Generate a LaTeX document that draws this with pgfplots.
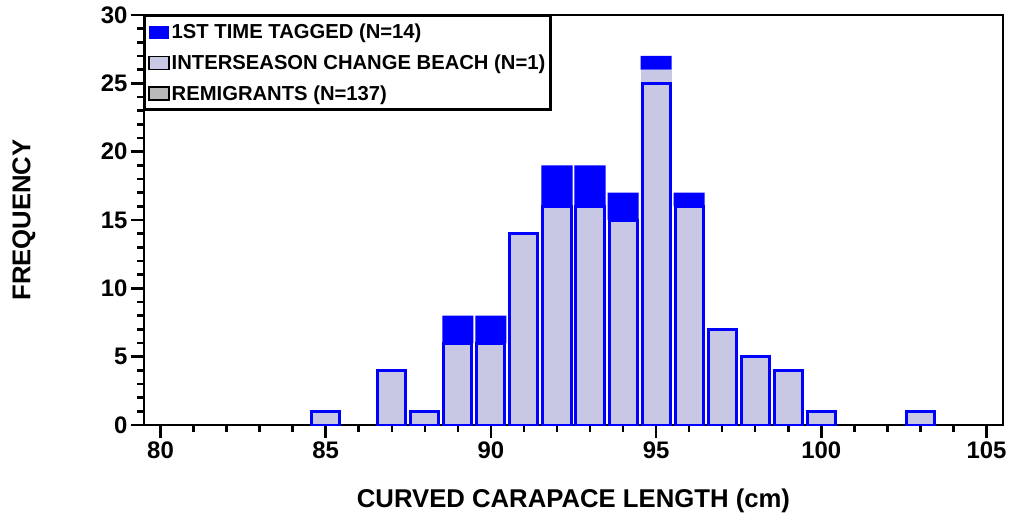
\documentclass[border=0pt]{standalone}
\usepackage{pgfplots}
\pgfplotsset{compat=1.18}
\usepackage{fontspec}
\setmainfont{Liberation Sans}

\definecolor{barblue}{rgb}{0,0,1}
\definecolor{hatchfill}{RGB}{200,200,228}
\definecolor{legendgray}{RGB}{185,185,185}

\begin{document}
\begin{tikzpicture}
\useasboundingbox (-144bp,-104bp) rectangle (867bp,425bp);
\begin{axis}[
  at={(0,0)}, anchor=south west,
  scale only axis,
  width=859bp, height=410bp,
  xmin=79.5, xmax=105.5,
  ymin=0, ymax=30,
  ybar stacked,
  xtick={80,85,...,105},
  ytick={0,5,...,30},
  minor x tick num=4,
  minor y tick num=4,
  xtick pos=bottom, ytick pos=left,
  tick align=outside,
  major tick length=13bp,
  minor tick length=7bp,
  every tick/.style={black, line width=2.5bp},
  axis line style={black, line width=2.5bp},
  /pgf/number format/assume math mode=true,
  tick label style={font=\fontsize{24}{28}\selectfont\bfseries},
  label style={font=\fontsize{25.8}{30}\selectfont\bfseries},
  xlabel={CURVED CARAPACE LENGTH (cm)},
  ylabel={FREQUENCY},
  xlabel style={at={(axis description cs:0.5,0)}, anchor=center, yshift=-76bp},
  ylabel style={at={(axis description cs:-0.1397,0.5)}, anchor=center},
  reverse legend,
  legend cell align=left,
  legend style={at={(0,1)}, anchor=north west, draw=black, line width=2.5bp,
    font=\fontsize{20.3}{24}\selectfont\bfseries,
    inner xsep=3bp, inner ysep=1.5bp, row sep=1.5bp,
    nodes={inner xsep=2bp, inner ysep=6.5bp}},
]
% remigrants (base of each stack)
\addplot[fill=hatchfill, draw=barblue, line width=3bp, bar width=0.85,
  legend image code/.code={\draw[line width=1.5bp, draw=black, fill=legendgray] (0bp,-6.5bp) rectangle (20bp,6.5bp);}]
  coordinates {(85,1) (87,4) (88,1) (89,6) (90,6) (91,14) (92,16) (93,16)
               (94,15) (95,25) (96,16) (97,7) (98,5) (99,4) (100,1) (103,1)};
\addlegendentry{REMIGRANTS (N=137)}
% interseason change of beach
\addplot[fill=hatchfill, draw=none, bar width=0.94,
  legend image code/.code={\draw[line width=1.2bp, draw=black, fill=hatchfill] (0bp,-6.5bp) rectangle (20bp,6.5bp);}]
  coordinates {(85,0) (87,0) (88,0) (89,0) (90,0) (91,0) (92,0) (93,0)
               (94,0) (95,1) (96,0) (97,0) (98,0) (99,0) (100,0) (103,0)};
\addlegendentry{INTERSEASON CHANGE BEACH (N=1)\hspace{18bp}}
% first time tagged
\addplot[fill=barblue, draw=none, bar width=0.94,
  legend image code/.code={\fill[barblue] (0bp,-6.5bp) rectangle (20bp,6.5bp);}]
  coordinates {(85,0) (87,0) (88,0) (89,2) (90,2) (91,0) (92,3) (93,3)
               (94,2) (95,1) (96,1) (97,0) (98,0) (99,0) (100,0) (103,0)};
\addlegendentry{1ST TIME TAGGED (N=14)}
\end{axis}
\end{tikzpicture}
\end{document}
